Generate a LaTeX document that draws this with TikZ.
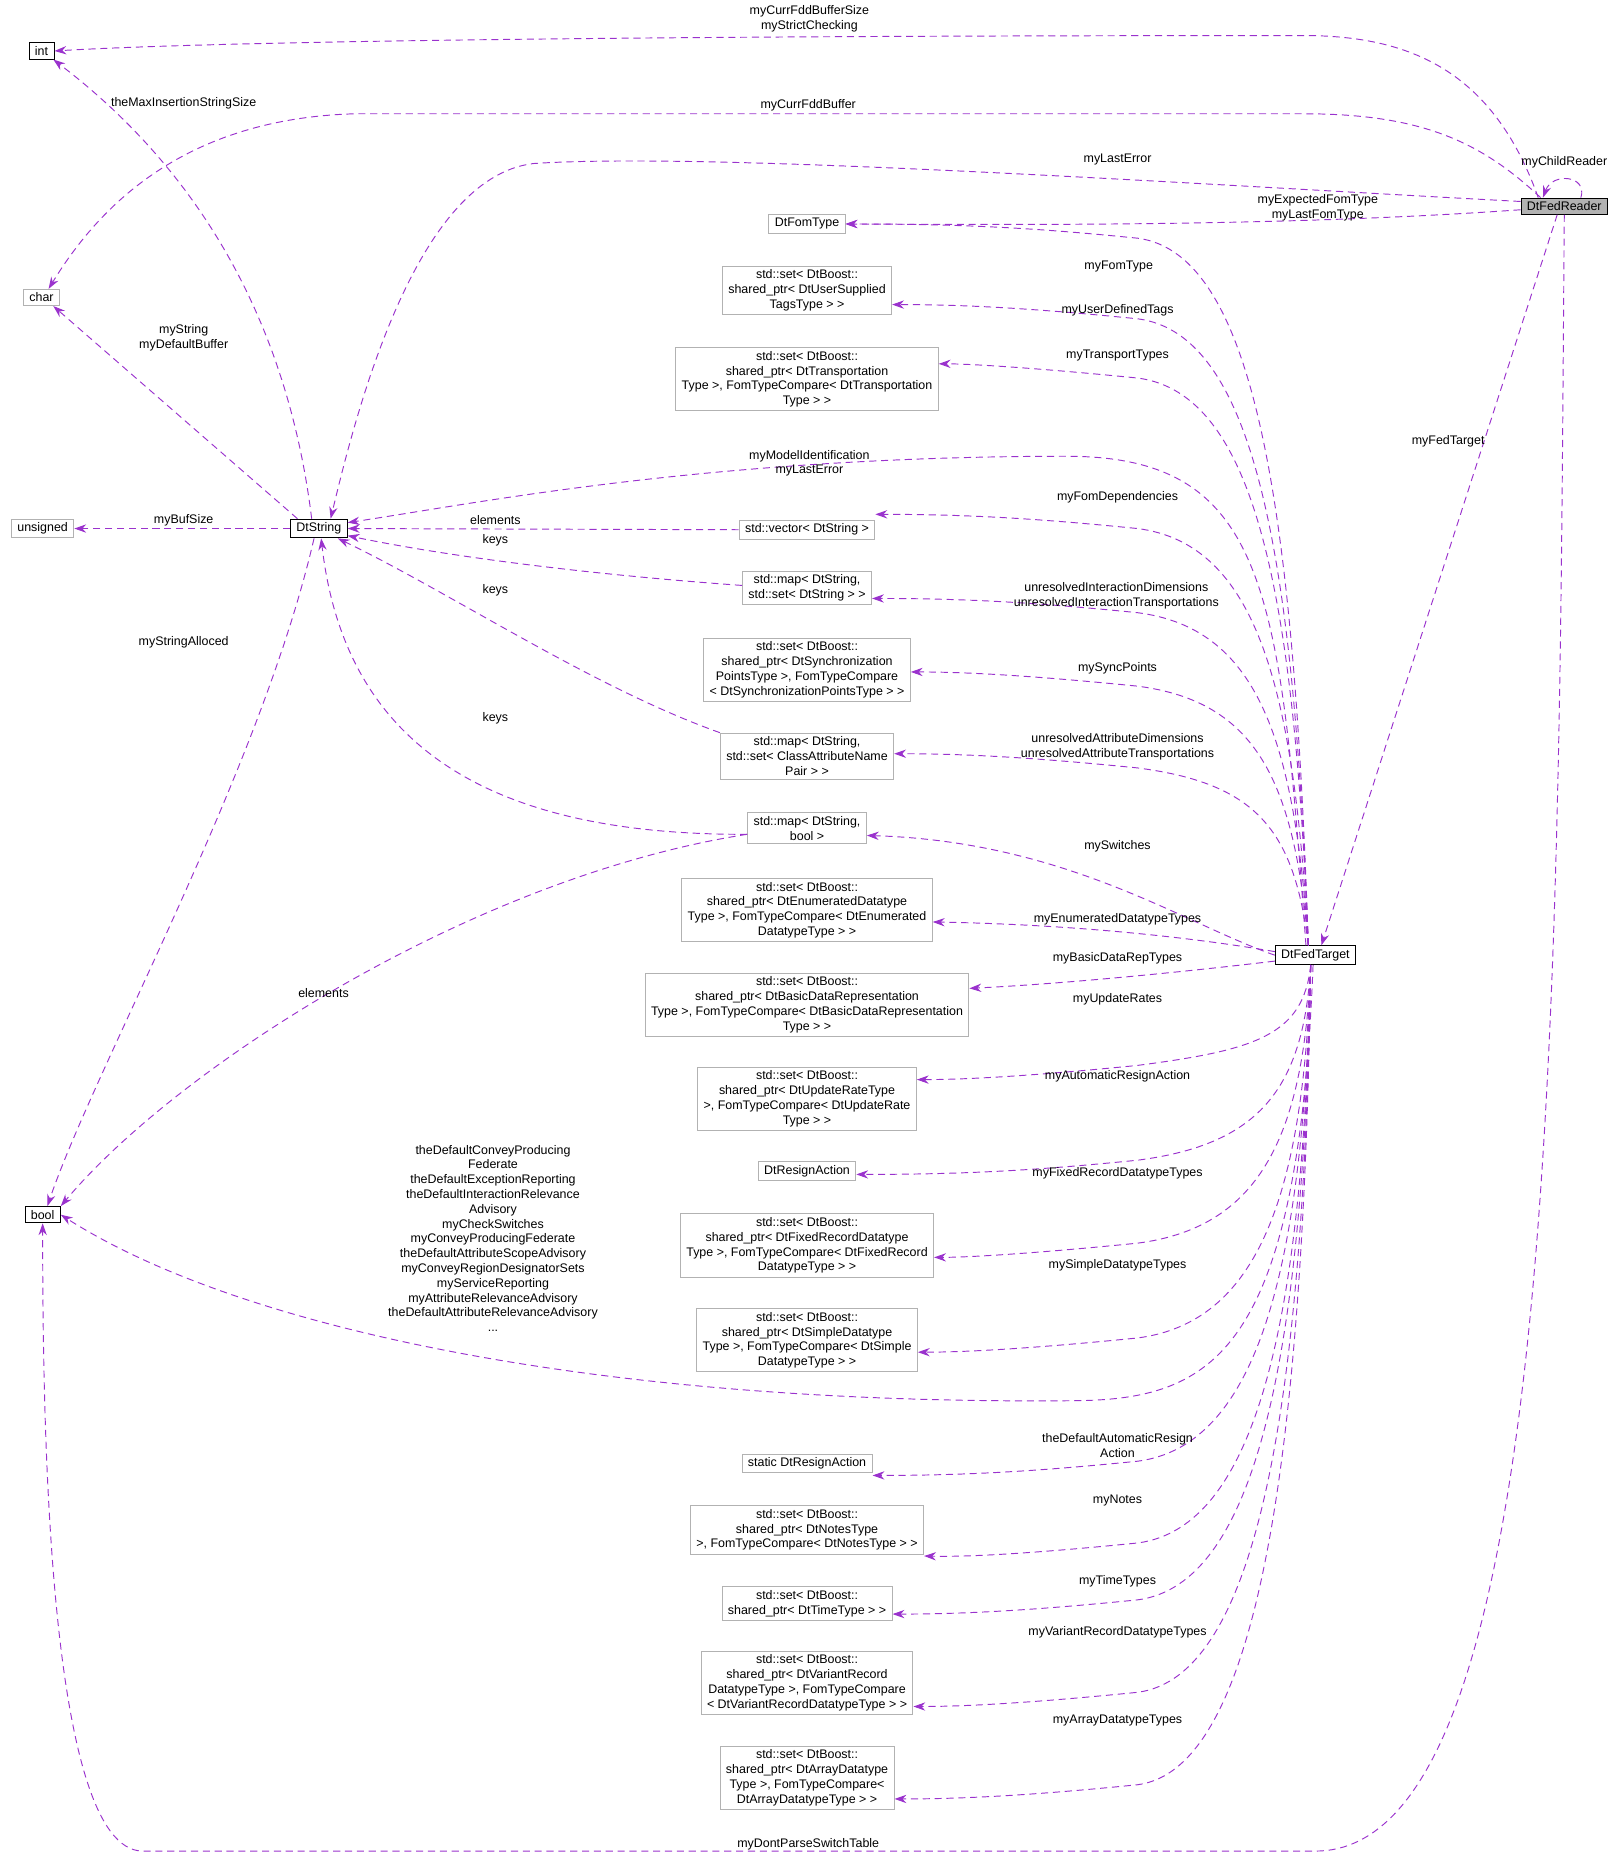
\documentclass[tikz,border=0pt]{standalone}
\usepackage{fontspec}
\setmainfont{Liberation Sans}
\usetikzlibrary{arrows.meta}
\definecolor{ep}{RGB}{154,50,205}
\begin{document}
\begin{tikzpicture}[x=1pt,y=-1pt,
  every node/.style={font=\fontsize{10.5}{12.5}\selectfont},
  box/.style={draw=gray!60,fill=white,align=center,inner xsep=5pt,inner ysep=3pt,line width=0.8pt},
  obox/.style={box,draw=black},
  lbl/.style={align=center,inner sep=0pt},
  e/.style={draw=ep,line width=0.8pt,dash pattern=on 6pt off 4pt,-{Stealth[length=10pt,width=7pt]}}]
\useasboundingbox (0,0) rectangle (1366,1567);
% nodes
\node[obox] (int) at (35,43) {int};
\node[box] (char) at (35,251) {char};
\node[box] (uns) at (36,446) {unsigned};
\node[obox] (ds) at (269,446) {DtString};
\node[obox] (bool) at (36,1025) {bool};
\node[obox,fill=gray!60] (fr) at (1320,174) {DtFedReader};
\node[obox] (ft) at (1110,806) {DtFedTarget};
\node[box] (fom) at (681,189) {DtFomType};
\node[box] (us) at (681,245) {std::set< DtBoost::\\shared\_ptr< DtUserSupplied\\TagsType > >};
\node[box] (tr) at (681,320) {std::set< DtBoost::\\shared\_ptr< DtTransportation\\Type >, FomTypeCompare< DtTransportation\\Type > >};
\node[box] (vec) at (681,447) {std::vector< DtString >};
\node[box] (m1) at (681,496) {std::map< DtString,\\std::set< DtString > >};
\node[box] (sy) at (681,565) {std::set< DtBoost::\\shared\_ptr< DtSynchronization\\PointsType >, FomTypeCompare\\< DtSynchronizationPointsType > >};
\node[box] (m2) at (681,638) {std::map< DtString,\\std::set< ClassAttributeName\\Pair > >};
\node[box] (m3) at (681,699) {std::map< DtString,\\bool >};
\node[box] (en) at (681,768) {std::set< DtBoost::\\shared\_ptr< DtEnumeratedDatatype\\Type >, FomTypeCompare< DtEnumerated\\DatatypeType > >};
\node[box] (bd) at (681,848) {std::set< DtBoost::\\shared\_ptr< DtBasicDataRepresentation\\Type >, FomTypeCompare< DtBasicDataRepresentation\\Type > >};
\node[box] (ur) at (681,927) {std::set< DtBoost::\\shared\_ptr< DtUpdateRateType\\ >, FomTypeCompare< DtUpdateRate\\Type > >};
\node[box] (ra) at (681,988) {DtResignAction};
\node[box] (fx) at (681,1051) {std::set< DtBoost::\\shared\_ptr< DtFixedRecordDatatype\\Type >, FomTypeCompare< DtFixedRecord\\DatatypeType > >};
\node[box] (si) at (681,1131) {std::set< DtBoost::\\shared\_ptr< DtSimpleDatatype\\Type >, FomTypeCompare< DtSimple\\DatatypeType > >};
\node[box] (sra) at (681,1235) {static DtResignAction};
\node[box] (no) at (681,1291) {std::set< DtBoost::\\shared\_ptr< DtNotesType\\ >, FomTypeCompare< DtNotesType > >};
\node[box] (ti) at (681,1353) {std::set< DtBoost::\\shared\_ptr< DtTimeType > >};
\node[box] (vr) at (681,1420) {std::set< DtBoost::\\shared\_ptr< DtVariantRecord\\DatatypeType >, FomTypeCompare\\< DtVariantRecordDatatypeType > >};
\node[box] (ar) at (681,1500) {std::set< DtBoost::\\shared\_ptr< DtArrayDatatype\\Type >, FomTypeCompare<\\DtArrayDatatypeType > >};
% DtFedReader edges
\draw[e] ([xshift=-22pt]fr.north) .. controls (1260,60) and (1190,30) .. (1100,30) .. controls (600,30) and (200,34) .. (int.east);
\draw[e] ([xshift=-20pt]fr.north) .. controls (1250,120) and (1200,96) .. (1100,96) -- (300,96) .. controls (150,100) and (80,180) .. ([xshift=6pt]char.north);
\draw[e] ([yshift=4pt]fr.west) .. controls (1000,155) and (600,128) .. (450,138) .. controls (350,150) and (300,350) .. ([xshift=10pt]ds.north);
\draw[e] ([yshift=-3pt]fr.west) .. controls (1100,190) and (900,190) .. (fom.east);
\draw[e] ([xshift=14pt]fr.north) .. controls (1340,148) and (1310,145) .. ([xshift=-18pt]fr.north);
\draw[e] ([xshift=-6pt]fr.south) -- ([xshift=5pt]ft.north);
\draw[e] (fr.south) .. controls (1315,800) and (1320,1562) .. (1110,1562) -- (120,1562) .. controls (40,1560) and (36,1200) .. (bool.south);
% DtString edges
\draw[e] ([xshift=-6pt]ds.north) .. controls (240,250) and (150,130) .. ([xshift=10pt]int.south);
\draw[e] ([xshift=-18pt]ds.north) -- ([xshift=10pt]char.south);
\draw[e] (ds.west) -- (uns.east);
\draw[e] ([xshift=-4pt]ds.south) .. controls (220,650) and (80,900) .. ([xshift=4pt]bool.north);
% into DtString
\draw[e] (vec.west) -- (ds.east);
\draw[e] ([yshift=2pt]m1.west) .. controls (500,485) and (380,470) .. ([yshift=-6pt]ds.east);
\draw[e] (m2.north west) .. controls (500,580) and (380,500) .. ([xshift=16pt]ds.south);
\draw[e] ([yshift=-5pt]m3.west) .. controls (400,705) and (290,620) .. ([xshift=2pt]ds.south);
\draw[e] ([yshift=-5pt]m3.west) .. controls (400,740) and (150,900) .. (bool.north east);
\draw[e] ([xshift=-8pt]ft.north) .. controls (1080,500) and (1070,385) .. (900,385) .. controls (600,385) and (400,425) .. ([yshift=5pt]ds.east);
% DtFedTarget upper
\foreach \n/\y/\d in {fom/189/0,us/257/12,tr/307/-13,vec/434/-13,m1/505/9,sy/567/2,m2/636/-2}{
  \draw[e] ([xshift=-6pt]ft.north) .. controls (1092,{\y+0.4*(796-\y)}) and (1060,{\y+25}) .. (960,{\y+12}) .. controls (880,{\y+4}) and (820,\y) .. ([yshift=-\d pt]\n.east);
}
% DtFedTarget lower
\draw[e] (ft.west) .. controls (1000,780) and (900,710) .. ([yshift=-6pt]m3.east);
\draw[e] ([yshift=3pt]ft.west) .. controls (1000,790) and (900,780) .. ([yshift=-10pt]en.east);
\draw[e] ([yshift=-5pt]ft.west) .. controls (1000,820) and (900,830) .. ([yshift=14pt]bd.east);
\foreach \n/\y/\d in {ur/911/-16,ra/991/3,fx/1061/10,si/1141/10,sra/1245/10,no/1314/22,ti/1362/9,vr/1440/20,ar/1518/18}{
  \draw[e] ([xshift=-4pt]ft.south) .. controls (1100,{\y-0.4*(\y-817)}) and (1060,{\y-25}) .. (960,{\y-12}) .. controls (880,{\y-4}) and (820,\y) .. ([yshift=-\d pt]\n.east);
}
\draw[e] ([xshift=-2pt]ft.south) .. controls (1095,1150) and (1020,1182) .. (900,1182) .. controls (500,1185) and (200,1120) .. (bool.east);
% labels
\node[lbl] at (683,16) {myCurrFddBufferSize\\myStrictChecking};
\node[lbl] at (682,89) {myCurrFddBuffer};
\node[lbl] at (943,135) {myLastError};
\node[lbl] at (1112,175) {myExpectedFomType\\myLastFomType};
\node[lbl] at (1320,137) {myChildReader};
\node[lbl] at (1222,372) {myFedTarget};
\node[lbl] at (682,1556) {myDontParseSwitchTable};
\node[lbl] at (155,87) {theMaxInsertionStringSize};
\node[lbl] at (155,285) {myString\\myDefaultBuffer};
\node[lbl] at (155,439) {myBufSize};
\node[lbl] at (155,542) {myStringAlloced};
\node[lbl] at (418,439) {elements};
\node[lbl] at (418,456) {keys};
\node[lbl] at (418,498) {keys};
\node[lbl] at (418,606) {keys};
\node[lbl] at (273,838) {elements};
\node[lbl] at (683,391) {myModelIdentification\\myLastError};
\node[lbl] at (944,225) {myFomType};
\node[lbl] at (943,262) {myUserDefinedTags};
\node[lbl] at (943,300) {myTransportTypes};
\node[lbl] at (943,420) {myFomDependencies};
\node[lbl] at (942,503) {unresolvedInteractionDimensions\\unresolvedInteractionTransportations};
\node[lbl] at (943,564) {mySyncPoints};
\node[lbl] at (943,630) {unresolvedAttributeDimensions\\unresolvedAttributeTransportations};
\node[lbl] at (943,714) {mySwitches};
\node[lbl] at (943,776) {myEnumeratedDatatypeTypes};
\node[lbl] at (943,809) {myBasicDataRepTypes};
\node[lbl] at (943,843) {myUpdateRates};
\node[lbl] at (943,908) {myAutomaticResignAction};
\node[lbl] at (943,990) {myFixedRecordDatatypeTypes};
\node[lbl] at (943,1068) {mySimpleDatatypeTypes};
\node[lbl] at (943,1220) {theDefaultAutomaticResign\\Action};
\node[lbl] at (943,1266) {myNotes};
\node[lbl] at (943,1334) {myTimeTypes};
\node[lbl] at (943,1377) {myVariantRecordDatatypeTypes};
\node[lbl] at (943,1452) {myArrayDatatypeTypes};
\node[lbl] at (416,1045) {theDefaultConveyProducing\\Federate\\theDefaultExceptionReporting\\theDefaultInteractionRelevance\\Advisory\\myCheckSwitches\\myConveyProducingFederate\\theDefaultAttributeScopeAdvisory\\myConveyRegionDesignatorSets\\myServiceReporting\\myAttributeRelevanceAdvisory\\theDefaultAttributeRelevanceAdvisory\\...};
\end{tikzpicture}
\end{document}
